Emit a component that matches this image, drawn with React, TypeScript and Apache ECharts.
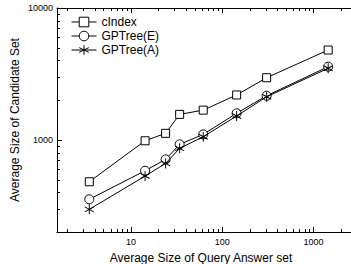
import React, { useEffect, useRef } from "react";
import * as echarts from "echarts";

const xValues = [3.5, 14.3, 24, 34.2, 62, 144, 307, 1450];
const cIndexValues = [481, 984, 1120, 1560, 1680, 2190, 2960, 4800];
const gpTreeEValues = [354, 583, 711, 924, 1100, 1590, 2160, 3590];
const gpTreeAValues = [297, 531, 663, 862, 1056, 1516, 2123, 3490];

const seriesNames = ["cIndex", "GPTree(E)", "GPTree(A)"];
const xMin = 1.55;
const xMax = 3000;
const yMin = 200;
const yMax = 10000;
const xMinorTicks = [2, 3, 4, 5, 6, 7, 8, 9, 20, 30, 40, 50, 60, 70, 80, 90, 200, 300, 400, 500, 600, 700, 800, 900, 2000];
const yMinorTicks = [300, 400, 500, 600, 700, 800, 900, 2000, 3000, 4000, 5000, 6000, 7000, 8000, 9000];

const FONT = "'Liberation Sans', Arial, sans-serif";
const ASTERISK = "path://M0,-5L0,5M-4.33,-2.5L4.33,2.5M-4.33,2.5L4.33,-2.5";

const powerLabel = (v: number) => {
  const l = Math.log10(v);
  return Math.abs(l - Math.round(l)) < 1e-6 ? String(Math.round(Math.pow(10, Math.round(l)))) : "";
};

export default function App() {
  const ref = useRef<HTMLDivElement>(null);
  useEffect(() => {
    if (!ref.current) return;
    const chart = echarts.init(ref.current, undefined, { renderer: "svg" });
    const line = { show: true, lineStyle: { color: "#000", width: 1 } };
    const pair = (arr: number[]) => xValues.map((x, i) => [x, arr[i]]);
    chart.setOption({
      animation: false,
      backgroundColor: "#fff",
      textStyle: { fontFamily: FONT },
      grid: { left: 57, top: 8, width: 300, height: 224, containLabel: false, outerBoundsMode: "none" },
      legend: {
        orient: "vertical",
        left: 71,
        top: 16,
        padding: 0,
        itemWidth: 25,
        itemHeight: 12,
        itemGap: 2,
        data: seriesNames,
        itemStyle: { borderWidth: 1 },
        lineStyle: { width: 1 },
        textStyle: { fontSize: 12, color: "#000", fontFamily: FONT },
      },
      xAxis: [
        {
          type: "log",
          min: xMin,
          max: xMax,
          position: "bottom",
          axisLine: line,
          axisTick: { show: true, inside: true, length: 5, lineStyle: { color: "#000" } },
          axisLabel: { fontSize: 9, color: "#000", margin: 5, formatter: powerLabel, fontFamily: FONT },
          splitLine: { show: false },
          name: "Average Size of Query Answer set",
          nameLocation: "middle",
          nameGap: 20,
          nameMoveOverlap: false,
          nameTextStyle: { fontSize: 12, color: "#000", fontFamily: FONT, padding: [0, 12, 0, 0] },
        },
        {
          type: "log",
          min: xMin,
          max: xMax,
          position: "top",
          axisLine: line,
          axisTick: { show: true, inside: true, length: 5, lineStyle: { color: "#000" } },
          axisLabel: { show: false },
          splitLine: { show: false },
        },
      ],
      yAxis: [
        {
          type: "log",
          min: yMin,
          max: yMax,
          position: "left",
          axisLine: line,
          axisTick: { show: true, inside: true, length: 5, lineStyle: { color: "#000" } },
          axisLabel: { fontSize: 9, color: "#000", margin: 4, formatter: powerLabel, fontFamily: FONT },
          splitLine: { show: false },
          name: "Average Size of Candidate Set",
          nameLocation: "middle",
          nameGap: 36,
          nameMoveOverlap: false,
          nameTextStyle: { fontSize: 12, color: "#000", fontFamily: FONT },
        },
      ],
      series: [
        {
          name: seriesNames[0],
          type: "line",
          data: pair(cIndexValues),
          symbol: "rect",
          symbolSize: 8,
          itemStyle: { color: "#fff", borderColor: "#000", borderWidth: 1 },
          lineStyle: { color: "#000", width: 1 },
          z: 2,
        },
        {
          name: seriesNames[1],
          type: "line",
          data: pair(gpTreeEValues),
          symbol: "circle",
          symbolSize: 9,
          itemStyle: { color: "#fff", borderColor: "#000", borderWidth: 1 },
          lineStyle: { color: "#000", width: 1 },
          z: 3,
        },
        {
          name: seriesNames[2],
          type: "line",
          data: pair(gpTreeAValues),
          symbol: ASTERISK,
          symbolSize: [9, 10],
          itemStyle: { color: "#000", borderColor: "#000", borderWidth: 1 },
          lineStyle: { color: "#000", width: 1 },
          z: 4,
        },
      ],
    });

    const toX = (v: number) => chart.convertToPixel({ xAxisIndex: 0 }, v) as number;
    const toY = (v: number) => chart.convertToPixel({ yAxisIndex: 0 }, v) as number;
    const left = toX(xMin);
    const bottom = toY(yMin);
    const top = toY(yMax);
    const tickStyle = { stroke: "#000", lineWidth: 1 };
    const elements: any[] = [];
    xMinorTicks.forEach((v) => {
      const px = Math.round(toX(v)) + 0.5;
      elements.push({ type: "line", silent: true, shape: { x1: px, y1: bottom, x2: px, y2: bottom - 3 }, style: tickStyle });
      elements.push({ type: "line", silent: true, shape: { x1: px, y1: top, x2: px, y2: top + 3 }, style: tickStyle });
    });
    yMinorTicks.forEach((v) => {
      const py = Math.round(toY(v)) + 0.5;
      elements.push({ type: "line", silent: true, shape: { x1: left, y1: py, x2: left + 3, y2: py }, style: tickStyle });
    });
    chart.setOption({ graphic: elements });
    return () => chart.dispose();
  }, []);
  return <div ref={ref} style={{ position: "fixed", left: 0, top: 0, width: 351, height: 264 }} />;
}
